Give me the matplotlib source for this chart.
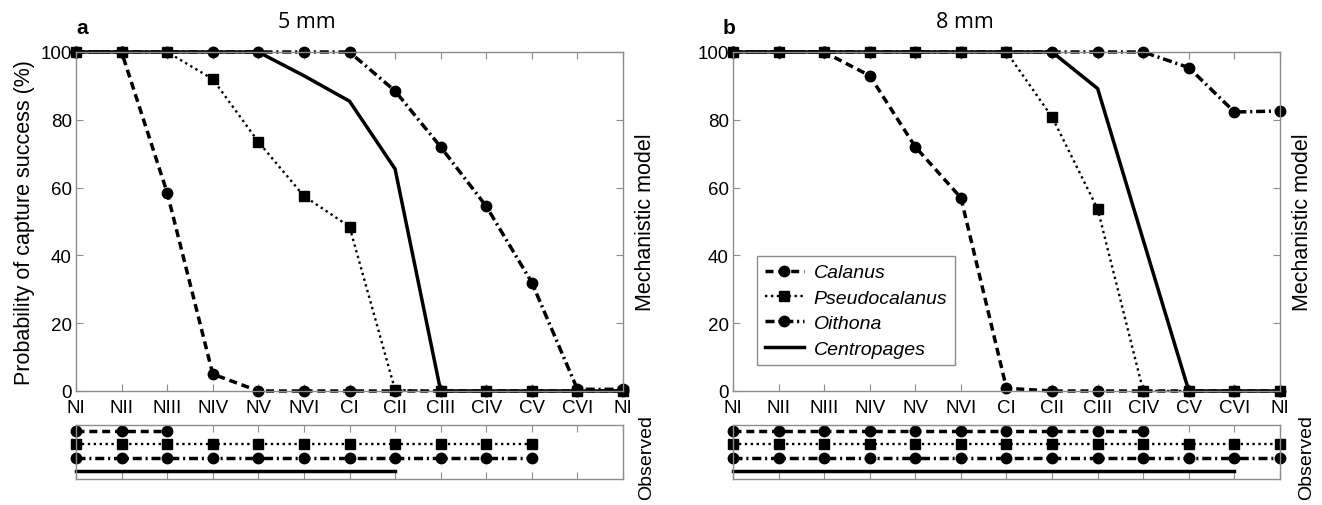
import matplotlib
matplotlib.use("Agg")
import matplotlib.pyplot as plt

W, H = 1322, 506
FONT = "Liberation Sans"

stages = ["NI", "NII", "NIII", "NIV", "NV", "NVI", "CI", "CII", "CIII", "CIV", "CV", "CVI", "NI"]
species = ["Calanus", "Pseudocalanus", "Oithona", "Centropages"]

# mechanistic model, 5 mm
calanus_5 = [100, 100, 58.5, 5, 0, 0, 0, 0, 0, 0, 0, 0, 0]
pseudo_5 = [100, 100, 100, 92, 73.5, 57.5, 48.5, 0.3, 0, 0, 0, 0, 0]
oithona_5 = [100, 100, 100, 100, 100, 100, 100, 88.5, 72, 54.5, 32, 0.5, 0.5]
centro_5 = [100, 100, 100, 100, 100, 93, 85.5, 65.5, 0, 0, 0, 0, 0]

# mechanistic model, 8 mm
calanus_8 = [100, 100, 100, 93, 72, 57, 0.8, 0, 0, 0, 0, 0, 0]
pseudo_8 = [100, 100, 100, 100, 100, 100, 100, 80.8, 53.7, 0, 0, 0, 0]
oithona_8 = [100, 100, 100, 100, 100, 100, 100, 100, 100, 100, 95.4, 82.3, 82.6]
centro_8 = [100, 100, 100, 100, 100, 100, 100, 100, 89.2, 44.5, 0, 0, 0]

# observed: last stage index captured (from NI), per species
obs_last_5 = [2, 10, 10, 7]
obs_last_8 = [9, 12, 12, 11]

styles = [
    dict(linestyle=(0, (2.3, 1.4)), linewidth=2.5, marker="o", markersize=7.5),
    dict(linestyle=(0, (1, 1.5)), linewidth=1.7, marker="s", markersize=6.5),
    dict(linestyle=(0, (2.6, 1.1, 0.6, 1.1)), linewidth=2.5, marker="o", markersize=7.5),
    dict(linestyle="-", linewidth=2.5, marker=None),
]

TICK = 13.5
plt.rcParams["font.family"] = [FONT, "DejaVu Sans"]
plt.rcParams["font.size"] = TICK


def px_rect(left, top, right, bottom):
    return [left / W, 1 - bottom / H, (right - left) / W, (bottom - top) / H]


def style_box(ax):
    for s in ax.spines.values():
        s.set_color("0.55")
        s.set_linewidth(1.0)
    ax.tick_params(direction="in", length=5, color="0.55", top=True, right=True,
                   labelsize=TICK, pad=3)


def draw_model(ax, series):
    x = list(range(len(stages)))
    lines = []
    for vals, st, name in zip(series, styles, species):
        ln, = ax.plot(x, vals, color="black", clip_on=False, label=name, **st)
        lines.append(ln)
    ax.set_xlim(0, len(stages) - 1)
    ax.set_ylim(0, 100)
    ax.set_xticks(x)
    ax.set_xticklabels(stages)
    ax.set_yticks(range(0, 101, 20))
    style_box(ax)
    ax.tick_params(axis="x", pad=6)
    ax.text(1.042, 0.5, "Mechanistic model", transform=ax.transAxes, rotation=90,
            ha="center", va="center", fontsize=15.5)
    return lines


def draw_observed(ax, last):
    for row, (n, st) in enumerate(zip(last, styles)):
        y = 4 - row
        xs = list(range(n + 1))
        ax.plot(xs, [y] * len(xs), color="black", clip_on=False, **st)
    ax.set_xlim(0, len(stages) - 1)
    ax.set_ylim(0.4, 4.45)
    ax.set_xticks(range(len(stages)))
    ax.set_xticklabels([])
    ax.set_yticks([])
    style_box(ax)
    ax.tick_params(axis="y", left=False, right=False)


fig = plt.figure(figsize=(W / 100, H / 100), dpi=100)

ax_a = fig.add_axes(px_rect(76, 53, 623, 392))
obs_a = fig.add_axes(px_rect(76, 426, 623, 480))
ax_b = fig.add_axes(px_rect(733, 53, 1280, 392))
obs_b = fig.add_axes(px_rect(733, 426, 1280, 480))

draw_model(ax_a, [calanus_5, pseudo_5, oithona_5, centro_5])
lines = draw_model(ax_b, [calanus_8, pseudo_8, oithona_8, centro_8])
draw_observed(obs_a, obs_last_5)
draw_observed(obs_b, obs_last_8)

ax_a.set_ylabel("Probability of capture success (%)", fontsize=15.5, labelpad=4)

leg = ax_b.legend(handles=lines, loc="lower left", bbox_to_anchor=(0.027, 0.048),
                  numpoints=1, handlelength=2.0, labelspacing=0.4, borderpad=0.38,
                  handletextpad=0.5, fancybox=False, framealpha=1,
                  prop=dict(family=FONT, style="italic", size=14))
leg.get_frame().set_edgecolor("0.55")
leg.get_frame().set_linewidth(1.0)

for x, txt in [(82, "a"), (729, "b")]:
    fig.text(x / W, 1 - 28 / H, txt, ha="center", va="center", fontsize=15,
             fontweight="bold")
for x, txt in [(307, "5 mm"), (965, "8 mm")]:
    fig.text(x / W, 1 - 23 / H, txt, ha="center", va="center", fontsize=15.5,
             family=["Open Sans", "DejaVu Sans"])
for x in [647, 1307]:
    fig.text(x / W, 1 - 458 / H, "Observed", rotation=90, ha="center", va="center",
             fontsize=14)

fig.savefig("out.png", dpi=100)
